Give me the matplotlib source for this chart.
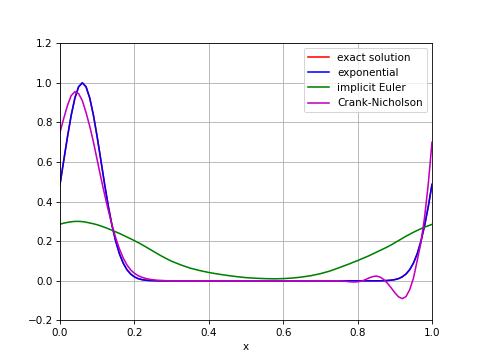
import matplotlib
matplotlib.use("Agg")
import matplotlib.pyplot as plt

x = [0.00, 0.01, 0.02, 0.03, 0.04, 0.05, 0.06, 0.07, 0.08, 0.09,
     0.10, 0.11, 0.12, 0.13, 0.14, 0.15, 0.16, 0.17, 0.18, 0.19,
     0.20, 0.21, 0.22, 0.23, 0.24, 0.25, 0.26, 0.27, 0.28, 0.29, 0.30,
     0.325, 0.35, 0.375, 0.40, 0.425, 0.45, 0.475, 0.50, 0.525, 0.55,
     0.575, 0.60, 0.625, 0.65, 0.675, 0.70, 0.725, 0.75,
     0.76, 0.77, 0.78, 0.79, 0.80, 0.81, 0.82, 0.83, 0.84, 0.85,
     0.86, 0.87, 0.88, 0.89, 0.90, 0.91, 0.92, 0.93, 0.94, 0.95,
     0.96, 0.97, 0.98, 0.99, 1.00]

exact = [0.487, 0.607, 0.726, 0.835, 0.923, 0.980, 1.000, 0.980, 0.923, 0.835,
         0.726, 0.607, 0.487, 0.375, 0.278, 0.198, 0.135, 0.089, 0.056, 0.034,
         0.020, 0.011, 0.006, 0.003, 0.0015, 0.001, 0.0, 0.0, 0.0, 0.0, 0.0,
         0.0, 0.0, 0.0, 0.0, 0.0, 0.0, 0.0, 0.0, 0.0, 0.0,
         0.0, 0.0, 0.0, 0.0, 0.0, 0.0, 0.0, 0.0,
         0.0, 0.0, 0.0, 0.0, 0.0, 0.0, 0.0, 0.0, 0.0, 0.0,
         0.0, 0.0007, 0.0015, 0.003, 0.006, 0.011, 0.020, 0.034, 0.056, 0.089,
         0.135, 0.198, 0.278, 0.375, 0.487]

exponential = [0.487, 0.607, 0.726, 0.835, 0.923, 0.980, 1.000, 0.980, 0.923, 0.835,
               0.726, 0.607, 0.487, 0.375, 0.278, 0.198, 0.135, 0.089, 0.056, 0.034,
               0.020, 0.011, 0.006, 0.003, 0.0015, 0.001, 0.0, 0.0, 0.0, 0.0, 0.0,
               0.0, 0.0, 0.0, 0.0, 0.0, 0.0, 0.0, 0.0, 0.0, 0.0,
               0.0, 0.0, 0.0, 0.0, 0.0, 0.0, 0.0, 0.0,
               0.0, 0.0, 0.0, 0.0, 0.0, 0.0, 0.0, 0.0, 0.0, 0.0,
               0.0, 0.0007, 0.0015, 0.003, 0.006, 0.011, 0.020, 0.034, 0.056, 0.089,
               0.135, 0.198, 0.278, 0.375, 0.487]

implicit_euler = [0.286, 0.291, 0.295, 0.298, 0.300, 0.300, 0.299, 0.296, 0.292, 0.288,
                  0.283, 0.277, 0.270, 0.263, 0.255, 0.247, 0.239, 0.230, 0.221, 0.212,
                  0.203, 0.193, 0.183, 0.172, 0.161, 0.150, 0.139, 0.128, 0.118, 0.108, 0.099,
                  0.080, 0.064, 0.052, 0.042, 0.034, 0.027, 0.021, 0.016, 0.013, 0.011,
                  0.010, 0.011, 0.014, 0.019, 0.026, 0.036, 0.049, 0.066,
                  0.073, 0.080, 0.087, 0.095, 0.102, 0.110, 0.118, 0.126, 0.135, 0.144,
                  0.153, 0.162, 0.171, 0.181, 0.192, 0.203, 0.214, 0.225, 0.235, 0.245,
                  0.254, 0.263, 0.271, 0.278, 0.285]

crank_nicholson = [0.75, 0.82, 0.885, 0.935, 0.955, 0.945, 0.91, 0.85, 0.78, 0.70,
                   0.61, 0.52, 0.435, 0.355, 0.28, 0.215, 0.16, 0.115, 0.08, 0.055,
                   0.038, 0.026, 0.018, 0.012, 0.008, 0.005, 0.003, 0.002, 0.001, 0.0, 0.0,
                   0.0, 0.0, 0.0, 0.0, 0.0, 0.0, 0.0, 0.0, 0.0, 0.0,
                   0.0, 0.0, 0.0, 0.0, 0.0, 0.0, 0.0, 0.0,
                   -0.001, -0.003, -0.005, -0.006, -0.005, -0.002, 0.005, 0.014, 0.021, 0.024,
                   0.019, 0.007, -0.012, -0.035, -0.060, -0.081, -0.090, -0.080, -0.045, 0.012,
                   0.100, 0.19, 0.32, 0.49, 0.70]

labels = ["exact solution", "exponential", "implicit Euler", "Crank-Nicholson"]

fig, ax = plt.subplots(figsize=(6.4, 4.8), dpi=75)
ax.plot(x, exact, "r", label=labels[0])
ax.plot(x, exponential, "b", label=labels[1])
ax.plot(x, implicit_euler, "g", label=labels[2])
ax.plot(x, crank_nicholson, "m", label=labels[3])
ax.set_xlim(0, 1)
ax.set_ylim(-0.2, 1.2)
ax.set_xlabel("x")
ax.grid(True)
ax.legend(loc="upper right")
fig.savefig("out.png", dpi=75)
